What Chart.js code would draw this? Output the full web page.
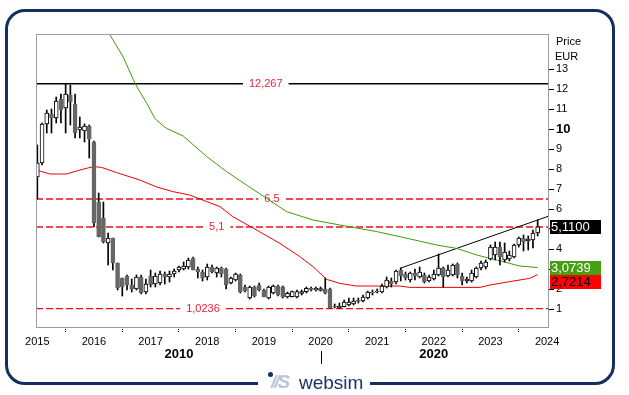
<!DOCTYPE html>
<html>
<head>
<meta charset="utf-8">
<script src="https://cdn.jsdelivr.net/npm/chart.js@4.4.1/dist/chart.umd.min.js"></script>
<style>
  html, body { margin:0; padding:0; background:#fff; }
  #wrap { position:relative; width:629px; height:395px; overflow:hidden; }
  #chart { position:absolute; left:0; top:0; }
  #frame { position:absolute; left:5px; top:9px; width:610px; height:376px; box-sizing:border-box;
           border:3px solid #142f5e; border-radius:20px; }
  #logo { position:absolute; left:258px; top:370px; width:112px; height:22px; background:#fff;
          font-family:'Liberation Sans', Arial, sans-serif; }
  #logo .dot { position:absolute; left:10px; top:2px; width:5px; height:5px; border-radius:50%; background:#142f5e; }
  #logo .ico { position:absolute; left:13px; top:2px; font-size:19px; line-height:19px; font-weight:bold;
               font-style:italic; color:#b9c4d6; letter-spacing:-2px; }
  #logo .txt { position:absolute; left:41px; top:3px; font-size:19px; line-height:19px; color:#173466; }
</style>
</head>
<body>
<div id="wrap">
  <canvas id="chart" width="629" height="395"></canvas>
  <div id="frame"></div>
  <div id="logo"><span class="dot"></span><span class="ico">//S</span><span class="txt">websim</span></div>
</div>
<script>
// === DATA === месячные свечи, первая — январь 2015
const YEARS = ['2015','2016','2017','2018','2019','2020','2021','2022','2023','2024'];
const PRICE_TICKS = [1,2,3,4,5,6,7,8,9,10,11,12,13];

const OPEN  = [7.6,8.3,10.25,10.75,10.55,11.5,11.05,11.7,11.25,9.95,9.9,10.15,
               9.35,6.35,5.55,4.3,4.55,3.3,2.55,2.65,2.2,2.0,2.6,1.85,
               2.65,2.25,2.3,2.75,2.6,2.75,2.95,3.0,3.1,3.55,3.0,2.85,
               2.6,3.1,2.8,3.05,3.0,2.3,2.45,2.7,2.1,1.55,2.1,2.2,
               1.95,1.55,1.8,2.15,2.1,1.6,1.62,1.6,1.78,1.87,2.03,1.95,
               1.93,2.0,2.0,1.15,1.05,1.12,1.2,1.25,1.45,1.4,1.55,1.8,
               1.85,1.85,2.1,2.4,2.35,2.95,2.75,2.45,2.8,2.6,2.7,2.4,
               2.5,2.7,3.05,2.65,2.7,3.25,2.65,2.4,2.4,2.6,3.05,3.1,
               3.5,3.7,4.1,3.45,3.5,3.6,4.2,4.55,4.4,4.45,4.8];
const HIGH  = [9.2,10.3,10.95,11.0,11.6,11.75,12.267,12.2,11.75,10.6,10.25,10.2,
               9.4,6.8,6.35,4.8,4.55,3.3,2.55,2.7,2.5,2.7,2.7,2.5,
               2.95,2.8,2.9,2.85,2.9,3.0,3.15,3.35,3.55,3.6,3.1,2.95,
               3.25,3.2,3.1,3.1,3.05,2.6,2.8,2.75,2.2,2.15,2.15,2.3,
               2.0,2.15,2.2,2.2,2.15,1.85,1.9,1.95,1.95,2.1,2.1,2.1,
               2.1,2.55,2.05,1.25,1.3,1.45,1.55,1.55,1.55,1.7,1.9,1.95,
               2.0,2.25,2.6,2.55,2.95,3.05,2.85,2.85,3.0,3.1,2.8,2.7,
               2.95,3.75,3.1,3.2,3.25,3.3,2.8,2.6,2.95,3.1,3.4,3.45,
               4.2,4.35,4.35,4.3,3.9,4.25,4.6,4.7,4.65,4.95,5.45];
const LOW   = [6.5,8.2,9.8,9.8,10.3,10.3,9.8,10.2,9.55,9.55,9.35,8.55,
               5.1,4.6,4.3,3.2,2.95,1.95,1.65,1.95,1.85,1.95,1.75,1.75,
               2.1,2.1,2.2,2.25,2.35,2.6,2.85,2.95,3.0,2.95,2.55,2.4,
               2.45,2.8,2.6,2.6,2.0,2.25,2.4,1.8,1.85,1.5,1.6,1.9,
               1.6,1.5,1.75,1.65,1.55,1.55,1.6,1.55,1.7,1.8,1.9,1.9,
               1.9,1.75,1.0236,1.05,1.03,1.1,1.15,1.2,1.3,1.35,1.5,1.7,
               1.8,1.8,2.05,2.1,2.25,2.4,2.45,2.35,2.45,2.55,2.3,2.35,
               2.45,2.65,2.1,2.6,2.65,2.55,2.2,2.3,2.35,2.55,2.95,3.0,
               3.45,3.45,3.2,3.35,3.4,3.55,4.1,3.9,3.95,4.05,4.65];
const CLOSE = [8.3,10.25,10.8,10.55,11.4,10.95,11.75,11.35,9.8,10.1,10.15,9.5,
               5.3,4.6,4.35,4.55,3.3,2.05,2.1,2.2,2.0,2.6,1.8,2.25,
               2.2,2.65,2.75,2.6,2.75,2.9,3.1,3.15,3.45,2.95,2.85,2.55,
               3.1,2.85,3.05,2.75,2.2,2.55,2.75,1.85,1.9,2.1,1.65,1.95,
               1.62,2.1,2.15,1.7,1.6,1.78,1.87,1.87,1.87,2.03,1.95,2.03,
               2.02,1.8,1.05,1.1,1.15,1.35,1.35,1.4,1.38,1.6,1.85,1.85,
               1.9,2.15,2.45,2.25,2.9,2.65,2.55,2.8,2.65,2.85,2.35,2.6,
               2.75,3.05,2.6,2.95,3.2,2.7,2.4,2.5,2.8,3.05,3.3,3.35,
               4.1,4.1,3.6,3.85,3.7,4.2,4.55,4.35,4.5,4.8,5.11];

// скользящие средние: [месяц от янв. 2015, значение]
const MA_RED = [[0,7.93],[2.7,7.75],[6.2,7.75],[9,7.95],[11.9,8.12],[13.6,8.08],[16.8,7.82],
                [21.7,7.45],[25.3,7.1],[28.7,6.87],[32.3,6.7],[35.9,6.37],[38.7,6.12],[41.4,5.62],
                [45.7,5.05],[51.4,4.28],[55.6,3.62],[58.4,3.12],[61.3,2.48],[64.1,2.28],[67.6,2.15],
                [76.8,2.15],[78.9,2.08],[93.8,2.08],[95.9,2.2],[100.1,2.37],[104.3,2.53],[106,2.7214]];
const MA_GREEN = [[14,15.3],[15.4,14.7],[18.2,13.6],[20.7,12.28],[21.7,11.87],[23.2,11.28],[24.9,10.53],
                  [26.7,10.15],[27.4,10.03],[30.9,9.65],[35.9,8.62],[40.1,7.87],[44.3,7.2],[48.6,6.53],
                  [52.8,5.87],[58.4,5.45],[64.1,5.2],[71.9,4.87],[77.5,4.58],[84.6,4.2],[88.8,4.03],
                  [93.1,3.7],[97.3,3.45],[102.2,3.15],[106,3.0739]];
const TREND = [[76.8,3.03],[108.4,5.65]];

const LEVELS = [12.267, 6.5, 5.1, 1.0236];
const LEVEL_TEXT = ['12,267', '6,5', '5,1', '1,0236'];
const DECADES = [['2010', 0, 60], ['2020', 60, 108]];

// === LAYOUT / STYLE ===
const X_MIN = -0.28, X_MAX = 108.4;
const Y_MIN = 0.1,   Y_MAX = 14.75;
const LEVEL_LABEL_AT = [48.4, 49.7, 38, 35.1];
const LEVEL_STYLE = [
  { color:'#000', dash:[] },
  { color:'#e8101e', dash:[7,3] },
  { color:'#e8101e', dash:[7,3] },
  { color:'#e8101e', dash:[7,3] }
];
const FONT = "'Liberation Sans', Arial, sans-serif";
const RED = '#ee0000', GREEN = '#3f9c05', GRID = '#9c9ca8';

const fmt = v => v.toFixed(4).replace('.', ',');

// === plugin: подписи уровней, рамка, плашки значений ===
const decor = {
  id: 'decor',
  afterDatasetDraw(chart, args) {
    const ds = chart.data.datasets[args.index];
    if (ds.level === undefined) return;
    const { ctx, scales: { x, y } } = chart;
    const i = ds.level;
    ctx.save();
    ctx.font = `11px ${FONT}`;
    const w = ctx.measureText(LEVEL_TEXT[i]).width;
    const cx = x.getPixelForValue(LEVEL_LABEL_AT[i]);
    const cy = y.getPixelForValue(LEVELS[i]);
    ctx.fillStyle = '#fff';
    ctx.fillRect(cx - w / 2 - 6, cy - 5, w + 12, 10);
    ctx.fillStyle = '#f0203a';
    ctx.textAlign = 'center';
    ctx.textBaseline = 'middle';
    ctx.fillText(LEVEL_TEXT[i], cx, cy);
    ctx.restore();
  },
  afterDraw(chart) {
    const { ctx, chartArea: a, scales: { x, y } } = chart;
    ctx.save();
    // рамка поля графика
    ctx.strokeStyle = GRID;
    ctx.lineWidth = 1;
    ctx.strokeRect(a.left + 0.5, a.top + 0.5, a.right - a.left - 1, a.bottom - a.top);

    // шапка оси
    ctx.fillStyle = '#000';
    ctx.font = `11px ${FONT}`;
    ctx.textBaseline = 'middle';
    ctx.textAlign = 'left';
    ctx.fillText('Price', a.right + 7, 42);
    ctx.fillText('EUR', a.right + 6, 57);

    // плашки последних значений
    const box = (v, top, bg, fg) => {
      ctx.fillStyle = bg;
      ctx.fillRect(a.right + 1, top, 51, 14);
      ctx.fillStyle = fg;
      ctx.font = `13px ${FONT}`;
      ctx.fillText(fmt(v), a.right + 2, top + 7.5);
    };
    const last = CLOSE[CLOSE.length - 1];
    const g = MA_GREEN[MA_GREEN.length - 1][1];
    const r = MA_RED[MA_RED.length - 1][1];
    box(last, Math.round(y.getPixelForValue(last)) - 7, '#000', '#fff');
    const gTop = Math.round(y.getPixelForValue(g)) - 7;
    box(g, gTop, '#45a010', '#fff');
    box(r, Math.max(gTop + 14, Math.round(y.getPixelForValue(r)) - 7), '#ff0000', '#000');

    // десятилетия
    ctx.fillStyle = '#000';
    ctx.font = `bold 13px ${FONT}`;
    ctx.textAlign = 'center';
    DECADES.forEach(([t, from, to]) => ctx.fillText(t, x.getPixelForValue((from + to) / 2), 354));
    const mx = Math.round(x.getPixelForValue(60)) + 0.5;
    ctx.strokeStyle = '#000';
    ctx.beginPath();
    ctx.moveTo(mx, 351); ctx.lineTo(mx, 364);
    ctx.stroke();
    ctx.restore();
  }
};

// === RENDER ===
const up = CLOSE.map((c, i) => c >= OPEN[i]);
const pts = arr => arr.map(([m, v]) => ({ x: m, y: v }));

const datasets = [
  { type:'bar', data: OPEN.map((o, i) => ({ x: i, y: [o, CLOSE[i]] })),
    backgroundColor: up.map(u => u ? '#fff' : '#666'),
    borderColor: up.map(u => u ? '#000' : '#666'),
    borderWidth: 1, borderSkipped: false, barThickness: 4, grouped: false, order: 1 },
  { type:'bar', data: HIGH.map((h, i) => ({ x: i, y: [LOW[i], h] })),
    backgroundColor: '#000', borderWidth: 0, barThickness: 1, grouped: false, order: 2 },
  { type:'line', data: pts(MA_RED), borderColor: RED, borderWidth: 1, pointRadius: 0, order: 3 },
  { type:'line', data: pts(MA_GREEN), borderColor: GREEN, borderWidth: 1, pointRadius: 0, order: 4 },
  { type:'line', data: pts(TREND), borderColor: '#000', borderWidth: 1, pointRadius: 0, order: 5 }
];
LEVELS.forEach((v, i) => datasets.push({
  type:'line', level: i, data: [{ x: X_MIN, y: v }, { x: X_MAX, y: v }],
  borderColor: LEVEL_STYLE[i].color, borderDash: LEVEL_STYLE[i].dash,
  borderWidth: i === 0 ? 1.5 : 1.3, pointRadius: 0, order: 10 + i
}));

new Chart(document.getElementById('chart').getContext('2d'), {
  type: 'bar',
  data: { datasets },
  options: {
    responsive: false,
    animation: false,
    layout: { padding: { left: 36, top: 34, right: 0, bottom: 0 } },
    plugins: { legend: { display: false }, tooltip: { enabled: false } },
    scales: {
      x: {
        type: 'linear', min: X_MIN, max: X_MAX, offset: false,
        afterBuildTicks: s => { s.ticks = YEARS.map((_, i) => ({ value: i * 12 })); },
        afterFit: s => { s.height = 68; s.paddingLeft = 0; s.paddingRight = 0; },
        ticks: { callback: v => YEARS[Math.round(v / 12)], font: { family: FONT, size: 11 },
                 color: '#000', padding: 2, maxRotation: 0, autoSkip: false },
        grid: { drawOnChartArea: false, tickLength: 6, color: '#000', tickBorderDash: [1, 1] },
        border: { display: false }
      },
      y: {
        type: 'linear', position: 'right', min: Y_MIN, max: Y_MAX,
        afterBuildTicks: s => { s.ticks = PRICE_TICKS.map(v => ({ value: v })); },
        afterFit: s => { s.width = 80; s.paddingTop = 0; s.paddingBottom = 0; },
        ticks: { callback: v => String(v), color: '#000', padding: 2, autoSkip: false,
                 font: c => (c.tick && c.tick.value === 10) ? { family: FONT, size: 13, weight: 'bold' }
                                                             : { family: FONT, size: 11 } },
        grid: { drawOnChartArea: false, tickLength: 5, color: '#000' },
        border: { display: false }
      }
    }
  },
  plugins: [decor]
});
</script>
</body>
</html>
